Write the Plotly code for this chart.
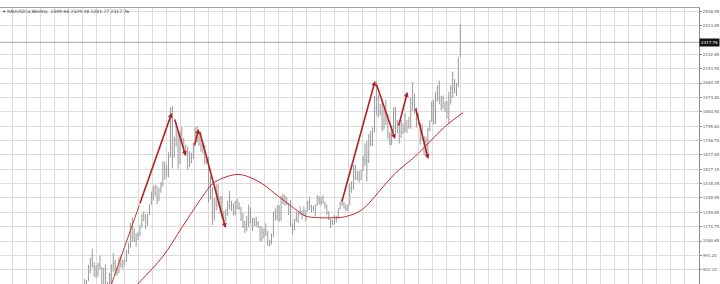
import plotly.graph_objects as go

# ---------------- data (monthly, Nov 2007 .. Apr 2024; index 0 = Nov 2007) ----------------
close = [783, 834,
         923, 972, 917, 863, 886, 929, 912, 833, 880, 717, 815, 869,
         928, 942, 916, 884, 979, 926, 954, 953, 1008, 1040, 1181, 1096,
         1081, 1118, 1113, 1180, 1213, 1244, 1181, 1248, 1307, 1359, 1386, 1421,
         1332, 1409, 1439, 1556, 1536, 1500, 1628, 1828, 1620, 1714, 1746, 1564,
         1740, 1711, 1669, 1664, 1561, 1604, 1622, 1687, 1772, 1719, 1713, 1675,
         1662, 1578, 1597, 1472, 1392, 1234, 1313, 1396, 1327, 1323, 1250, 1202,
         1244, 1326, 1284, 1296, 1250, 1327, 1282, 1287, 1211, 1171, 1183, 1199,
         1283, 1213, 1183, 1184, 1190, 1172, 1095, 1134, 1115, 1142, 1065, 1061,
         1118, 1238, 1233, 1293, 1215, 1322, 1351, 1309, 1315, 1272, 1173, 1151,
         1210, 1248, 1249, 1268, 1268, 1242, 1269, 1322, 1280, 1271, 1275, 1303,
         1345, 1318, 1325, 1315, 1298, 1253, 1224, 1201, 1192, 1215, 1222, 1282,
         1321, 1313, 1292, 1283, 1305, 1409, 1413, 1520, 1472, 1513, 1464, 1517,
         1589, 1585, 1577, 1687, 1730, 1781, 1975, 1967, 1886, 1879, 1777, 1895,
         1847, 1734, 1708, 1768, 1907, 1770, 1814, 1814, 1757, 1783, 1774, 1829,
         1797, 1909, 1937, 1897, 1837, 1807, 1766, 1711, 1660, 1633, 1768, 1824,
         1928, 1826, 1969, 1990, 1962, 1919, 1965, 1940, 1849, 1983, 2036, 2063,
         2039, 2044, 2229, 2317.76]
high = [845, 838,
        932, 976, 1032, 950, 930, 945, 988, 918, 913, 935, 825, 883,
        935, 1006, 964, 917, 980, 990, 963, 972, 1024, 1070, 1195, 1227,
        1162, 1128, 1139, 1180, 1249, 1265, 1245, 1250, 1310, 1388, 1424, 1432,
        1424, 1411, 1447, 1575, 1577, 1556, 1632, 1913, 1921, 1730, 1803, 1764,
        1764, 1791, 1720, 1680, 1665, 1640, 1630, 1693, 1790, 1796, 1755, 1725,
        1695, 1680, 1617, 1605, 1488, 1417, 1348, 1434, 1434, 1361, 1361, 1267,
        1280, 1332, 1392, 1331, 1315, 1330, 1345, 1322, 1293, 1255, 1206, 1238,
        1307, 1290, 1224, 1225, 1232, 1205, 1174, 1170, 1157, 1191, 1142, 1088,
        1128, 1263, 1283, 1304, 1305, 1362, 1375, 1367, 1352, 1317, 1337, 1190,
        1220, 1264, 1261, 1296, 1270, 1296, 1274, 1331, 1357, 1306, 1299, 1309,
        1366, 1361, 1356, 1366, 1326, 1309, 1266, 1221, 1214, 1243, 1237, 1284,
        1326, 1347, 1324, 1310, 1306, 1439, 1453, 1555, 1557, 1518, 1516, 1523,
        1611, 1689, 1704, 1747, 1765, 1789, 1984, 2075, 1992, 1933, 1965, 1906,
        1959, 1872, 1758, 1798, 1913, 1916, 1833, 1834, 1834, 1814, 1877, 1832,
        1853, 1974, 2070, 1998, 1910, 1879, 1814, 1808, 1735, 1730, 1786, 1833,
        1950, 1960, 2010, 2049, 2079, 1984, 1987, 1949, 1953, 2009, 2052, 2135,
        2088, 2065, 2222, 2431]
low = [775, 780,
       833, 880, 915, 860, 851, 860, 905, 786, 740, 681, 705, 753,
       800, 890, 866, 865, 882, 915, 908, 931, 950, 1000, 1040, 1075,
       1075, 1045, 1087, 1113, 1163, 1204, 1155, 1175, 1242, 1308, 1332, 1360,
       1309, 1330, 1381, 1419, 1462, 1478, 1478, 1600, 1534, 1600, 1670, 1531,
       1563, 1690, 1628, 1614, 1527, 1540, 1564, 1591, 1684, 1692, 1672, 1636,
       1625, 1555, 1562, 1321, 1338, 1180, 1207, 1271, 1292, 1251, 1220, 1182,
       1202, 1238, 1277, 1268, 1240, 1240, 1281, 1273, 1206, 1161, 1131, 1142,
       1167, 1190, 1142, 1174, 1170, 1162, 1077, 1080, 1098, 1113, 1052, 1046,
       1061, 1107, 1208, 1209, 1200, 1207, 1310, 1302, 1305, 1241, 1171, 1122,
       1146, 1200, 1195, 1243, 1214, 1236, 1205, 1267, 1275, 1261, 1265, 1236,
       1302, 1307, 1303, 1315, 1282, 1245, 1211, 1160, 1180, 1183, 1196, 1221,
       1276, 1300, 1281, 1266, 1266, 1305, 1381, 1400, 1460, 1458, 1445, 1459,
       1517, 1548, 1451, 1567, 1670, 1671, 1757, 1863, 1849, 1860, 1764, 1775,
       1803, 1717, 1677, 1678, 1765, 1750, 1751, 1687, 1722, 1746, 1758, 1753,
       1780, 1780, 1890, 1872, 1787, 1805, 1681, 1709, 1615, 1617, 1617, 1765,
       1824, 1805, 1810, 1950, 1932, 1893, 1903, 1884, 1846, 1810, 1931, 1973,
       2002, 1984, 2039, 2228]
first_open = 795
months = list(range(len(close)))
opens = [first_open] + close[:-1]

# moving-average curve (month index, price)
ma_month = [27.8, 40.9, 51.3, 61.8, 67.0, 72.2, 80.9, 91.4, 101.8, 112.3, 115.8, 122.7,
            131.4, 136.7, 145.3, 154.0, 162.8, 173.2, 180.2, 188.9, 198.4]
ma_price = [813, 983, 1170, 1357, 1436, 1471, 1495, 1450, 1357, 1263, 1236, 1226,
            1226, 1232, 1274, 1383, 1502, 1606, 1689, 1792, 1880]

# hand-drawn arrows (tail -> head)
arrow_tail_m = [28.7, 47.0, 57.4, 60.1, 134.7, 152.8, 164.5, 173.4]
arrow_tail_p = [1305, 1846, 1666, 1772, 1317, 2064, 1790, 1915]
arrow_head_m = [45.7, 53.0, 59.8, 73.9, 152.3, 162.8, 169.3, 180.2]
arrow_head_p = [1878, 1610, 1778, 1162, 2077, 1716, 2008, 1591]
lead_line_m = [14.1, 28.7]
lead_line_p = [813, 1305]

tick_vals = [2508.95, 2423.85, 2242.65, 2153.55, 2064.45, 1974.80, 1884.90, 1795.80,
             1706.70, 1617.65, 1527.15, 1438.05, 1348.95, 1259.85, 1170.75, 1080.65,
             991.20, 902.10, 813.00]
last_price = 2317.76
title_text = "▾ XAUUSD.a,Weekly  2309.44 2329.18 2201.77 2317.76"

# ---------------- figure ----------------
fig = go.Figure()
fig.add_trace(go.Ohlc(x=months, open=opens, high=high, low=low, close=close,
                      increasing=dict(line=dict(color="#9a9a9a", width=1)),
                      decreasing=dict(line=dict(color="#9a9a9a", width=1)),
                      tickwidth=0.2, hoverinfo="skip", showlegend=False))
fig.add_trace(go.Scatter(x=ma_month, y=ma_price, mode="lines",
                         line=dict(color="#c62828", width=1, shape="spline"),
                         hoverinfo="skip", showlegend=False))
fig.add_trace(go.Scatter(x=lead_line_m, y=lead_line_p, mode="lines",
                         line=dict(color="#c0392b", width=1),
                         hoverinfo="skip", showlegend=False))

for tm, tp, hm, hp in zip(arrow_tail_m, arrow_tail_p, arrow_head_m, arrow_head_p):
    fig.add_annotation(x=hm, y=hp, ax=tm, ay=tp, xref="x", yref="y", axref="x", ayref="y",
                       showarrow=True, arrowhead=2, arrowsize=0.6, arrowwidth=1.6,
                       arrowcolor="#b32222", text="")

# current price line
fig.add_shape(type="line", xref="paper", x0=0, x1=1, yref="y", y0=last_price, y1=last_price,
              line=dict(color="#a8a8a8", width=1))
fig.add_annotation(xref="paper", x=1.0, xanchor="left", yref="y", y=last_price,
                   text="2317.76", showarrow=False, bgcolor="#111111",
                   font=dict(family="DejaVu Sans", size=4, color="white"), borderpad=1)
fig.add_annotation(xref="paper", x=0.002, xanchor="left", yref="paper", y=0.988, yanchor="middle",
                   text=title_text, showarrow=False,
                   font=dict(family="DejaVu Sans", size=4.5, color="#333333"))

fig.update_layout(
    width=720, height=284,
    margin=dict(l=0, r=18, t=8, b=0),
    paper_bgcolor="white", plot_bgcolor="white",
    xaxis=dict(range=[-44.39, 322.19], tick0=-37.75, dtick=7.337, showticklabels=False,
               showgrid=True, gridcolor="#dcdcdc", gridwidth=1, zeroline=False,
               rangeslider=dict(visible=False), side="top", showline=True,
               linecolor="#a0a0a0", linewidth=1, ticks=""),
    yaxis=dict(range=[813.0, 2531.4], side="right", tickvals=tick_vals,
               ticktext=[f"{v:.2f}" for v in tick_vals], showgrid=True,
               gridcolor="#dcdcdc", gridwidth=1, zeroline=False, showline=True,
               linecolor="#8a8a8a", linewidth=1, ticks="outside", ticklen=2,
               tickcolor="#8a8a8a", tickfont=dict(family="DejaVu Sans", size=4, color="#555555")),
)

fig.write_html("out.html")
